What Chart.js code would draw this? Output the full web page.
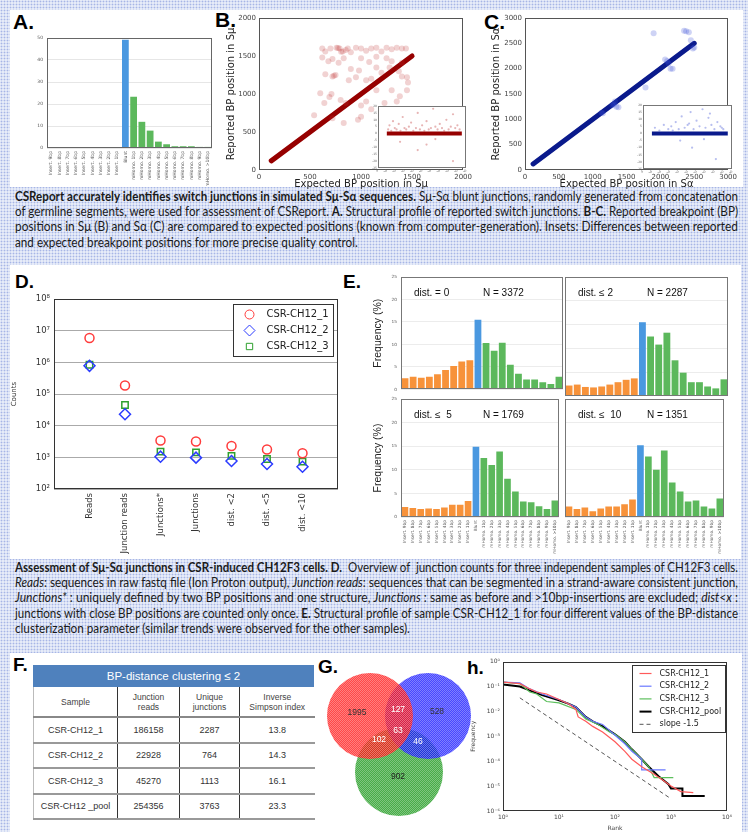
<!DOCTYPE html>
<html>
<head>
<meta charset="utf-8">
<script src="https://cdn.jsdelivr.net/npm/chart.js@4.4.1/dist/chart.umd.min.js"></script>
<style>
body { margin: 0; width: 748px; height: 832px; position: relative; overflow: hidden;
  background: #e6ebf8 radial-gradient(circle, #a7b5e6 0.8px, transparent 1.1px) 0 0 / 3px 3px;
  font-family: "DejaVu Sans", sans-serif; }
.white { position: absolute; background: #fff; }
.box { position: absolute; }
.letter { position: absolute; font: bold 21px/22px "Liberation Sans", Arial, sans-serif; color: #000; }
.letter.small { font-size: 19px; }
.cap { position: absolute; left: 15px; width: 723px; font: 12.5px Lato, "Open Sans", sans-serif; color: #1a1a1a; }
.cap div { height: 15.2px; line-height: 15.2px; white-space: nowrap; }
.cap span.line { display: inline-block; transform-origin: 0 50%; }
#tableF { position: absolute; left: 33px; top: 665px; width: 281px; font-family: "Liberation Sans", Arial, sans-serif; }
#tableF .band { height: 22px; line-height: 22px; background: #4f81bd; color: #fff; font-size: 11.5px; text-align: center; }
#tableF table { border-collapse: collapse; table-layout: fixed; width: 281px; border-left: 1px solid #bbb; }
#tableF th { height: 27px; padding: 1px; font-size: 8.5px; font-weight: normal; color: #444; border-right: 1px solid #333; border-bottom: 2px solid #888; vertical-align: middle; }
#tableF td { height: 21.5px; padding: 1px; font-size: 9px; color: #333; text-align: center; border-right: 1px solid #333; border-bottom: 2px solid #999; }
#tableF th:last-child, #tableF td:last-child { border-right: none; }
</style>
</head>
<body>
<div class="white" style="left:10px;top:10px;width:733px;height:177px"></div>
<div class="white" style="left:10px;top:265px;width:731px;height:294px"></div>
<div class="white" style="left:10px;top:653px;width:732px;height:179px"></div>

<div class="letter" style="left:13px;top:11px">A.</div>
<div class="letter" style="left:215px;top:9px">B.</div>
<div class="letter" style="left:484px;top:11px">C.</div>
<div class="letter small" style="left:15px;top:271px">D.</div>
<div class="letter small" style="left:343px;top:271px">E.</div>
<div class="letter small" style="left:13px;top:654px">F.</div>
<div class="letter small" style="left:318px;top:656px">G.</div>
<div class="letter small" style="left:467px;top:657px">h.</div>

<div class="cap" style="top:189px">
  <div><span class="line"><b>CSReport accurately identifies switch junctions in simulated Sμ-Sα sequences.</b> Sμ-Sα blunt junctions, randomly generated from concatenation</span></div>
  <div><span class="line">of germline segments, were used for assessment of CSReport. <b>A.</b> Structural profile of reported switch junctions. <b>B-C.</b> Reported breakpoint (BP)</span></div>
  <div><span class="line">positions in Sμ (B) and Sα (C) are compared to expected positions (known from computer-generation). Insets: Differences between reported</span></div>
  <div class="last"><span class="line">and expected breakpoint positions for more precise quality control.</span></div>
</div>

<div class="cap" style="top:560px">
  <div><span class="line"><b>Assessment of Sμ-Sα junctions in CSR-induced CH12F3 cells. D.</b>&nbsp; Overview of&nbsp; junction counts for three independent samples of CH12F3 cells.</span></div>
  <div><span class="line"><i>Reads</i>: sequences in raw fastq file (Ion Proton output), <i>Junction reads</i>: sequences that can be segmented in a strand-aware consistent junction,</span></div>
  <div><span class="line"><i>Junctions*</i> : uniquely defined by two BP positions and one structure, <i>Junctions</i> : same as before and &gt;10bp-insertions are excluded; <i>dist&lt;x</i> :</span></div>
  <div><span class="line">junctions with close BP positions are counted only once. <b>E.</b> Structural profile of sample CSR-CH12_1 for four different values of the BP-distance</span></div>
  <div class="last"><span class="line">clusterization parameter (similar trends were observed for the other samples).</span></div>
</div>

<div id="tableF"></div>

<script>
// ---- data ----
const profileLabels = ['Insert. 9bp', 'Insert. 8bp', 'Insert. 7bp', 'Insert. 6bp', 'Insert. 5bp', 'Insert. 4bp', 'Insert. 3bp', 'Insert. 2bp', 'Insert. 1bp',
  'Blunt', 'mHomo. 1bp', 'mHomo. 2bp', 'mHomo. 3bp', 'mHomo. 4bp', 'mHomo. 5bp', 'mHomo. 6bp', 'mHomo. 7bp', 'mHomo. 8bp', 'mHomo. 9bp', 'mHomo. >10bp'];
const simProfile = [0, 0, 0, 0, 0, 0, 0, 0, 0, 49.2, 23.3, 11.9, 7.9, 2.9, 1.7, 0.8, 0.8, 0.8, 0.5, 0.5];

// B: expected vs reported in S-mu
const muDiag = [120, 1500];
const muOutX = [620, 650, 700, 760, 775, 790, 805, 820, 850, 870, 900, 950, 1000, 1050, 1100, 1150, 1200, 1250, 1300, 1350, 1400, 1440,
  620, 680, 720, 780, 830, 900, 980, 1000, 1080, 1150, 1250, 1300, 1400,
  720, 735, 750, 650, 880, 950, 1050, 1100, 1200, 1280, 1400, 1450, 1150, 1370,
  600, 690, 710, 800, 640, 850, 1000, 1050, 1150, 1300, 1380, 1450, 1230, 1350,
  540, 720, 830, 970, 1000, 1100, 1260, 1460];
const muOutY = [1600, 1560, 1600, 1610, 1605, 1600, 1555, 1560, 1580, 1600, 1550, 1610, 1600, 1570, 1600, 1610, 1560, 1610, 1590, 1610, 1600, 1600,
  1480, 1430, 1460, 1410, 1470, 1330, 1310, 1470, 1420, 1490, 1470, 1430, 1410,
  1230, 1240, 1250, 1260, 1180, 1220, 1180, 1200, 1280, 1350, 1230, 1220, 1350, 1300,
  1010, 960, 1000, 920, 880, 880, 850, 900, 1050, 1050, 970, 1050, 880, 900,
  720, 680, 620, 660, 700, 800, 600, 1150];
const muDiffSpan = [200, 1900];
const muDiffX = [230, 260, 300, 340, 380, 420, 470, 510, 560, 600, 640, 700, 750, 800, 860, 900, 950, 1000, 1050, 1100,
  1150, 1200, 1250, 1300, 1350, 1400, 1450, 1500, 1550, 1600, 1650, 1700, 1750, 1800, 1850, 500, 900, 1300, 1700, 1100];
const muDiffY = [3, 6, 2, 9, 4, 3, 7, 2, 12, 4, 3, 5, 8, 2, 4, 15, 3, 6, 2, 9,
  3, 4, 18, 5, 3, 7, 4, 2, 10, 3, 5, 14, 4, 6, 3, -6, -12, -4, -20, -8];

// C: expected vs reported in S-alpha
const alphaDiag = [120, 2500];
const alphaOutX = [1900, 2350, 2380, 2420, 2450, 2480, 2500, 2070, 2100, 2120, 2150, 2180, 1780, 1290, 1310, 1330, 1350, 1380, 1150, 1130];
const alphaOutY = [2700, 2750, 2740, 2720, 2560, 2400, 2420, 2180, 2150, 2100, 2000, 2000, 1630, 1280, 1300, 1350, 1250, 1240, 1120, 1130];
const alphaDiffSpan = [300, 2850];
const alphaDiffX = [400, 550, 700, 850, 950, 1100, 1200, 1300, 1400, 1500, 1600, 1700, 1800, 1900, 2000, 2100, 2200, 2300, 2400, 2500,
  2600, 2700, 1250, 1650, 2050, 2450, 1000, 1550, 2250, 2650];
const alphaDiffY = [4, 2, 6, 3, 5, 8, 3, 12, 4, 6, 15, 3, 9, 5, 17, 4, 11, 6, 3, 8,
  5, 3, -5, -10, -4, -18, 2, 7, 14, 4];

// D: counts
const countLabels = ['Reads', 'Junction reads', 'Junctions*', 'Junctions', 'dist. <2', 'dist. <5', 'dist. <10'];
const ch1Counts = [5.9e6, 186158, 3390, 3150, 2287, 1769, 1351];
const ch2Counts = [7.8e5, 22928, 1050, 980, 764, 614, 505];
const ch3Counts = [8.4e5, 45270, 1510, 1440, 1113, 885, 730];

// E: frequency profiles (%) for BP-distance clustering
const freqDist0 = [2.5, 2.8, 2.6, 2.8, 3.4, 4.3, 5.2, 6.2, 6.5, 15.5, 10.3, 8.6, 10.4, 5.5, 3.5, 2.2, 2.2, 1.6, 1.2, 2.8];
const freqDist2 = [2.2, 2.4, 1.9, 1.8, 2.0, 2.4, 2.9, 3.4, 3.7, 15.5, 12.5, 10.8, 13.3, 7.5, 4.9, 2.9, 2.9, 2.0, 1.6, 3.5];
const freqDist5 = [2.1, 1.9, 1.7, 1.8, 1.7, 2.0, 2.6, 2.6, 3.4, 14.9, 12.5, 11.0, 13.9, 8.1, 5.4, 3.3, 3.1, 2.3, 1.7, 3.5];
const freqDist10 = [2.2, 1.7, 2.0, 1.2, 1.8, 2.2, 2.2, 2.7, 3.7, 15.2, 12.8, 10.0, 14.1, 7.3, 5.4, 3.3, 3.5, 2.2, 1.8, 3.9];
const distLabels = ['dist. = 0', 'dist. \u2264 2', 'dist. \u2264  5', 'dist. \u2264  10'];
const distN = [3372, 2287, 1769, 1351];

// F: table
const sampleNames = ['CSR-CH12_1', 'CSR-CH12_2', 'CSR-CH12_3', 'CSR-CH12 _pool'];
const junctionReads = [186158, 22928, 45270, 254356];
const uniqueJunctions = [2287, 764, 1113, 3763];
const simpsonIndex = ['13.8', '14.3', '16.1', '23.3'];

// G: venn
const vennX = [50, 108, 79];
const vennY = [116, 116, 60];
const vennR = [43, 43, 44];
const vennText = ['1995', '127', '528', '63', '102', '46', '902'];
const vennTextX = [37, 78, 117, 78, 59, 98, 78];
const vennTextY = [119, 122, 120, 101, 92, 90, 55];

// H: rank-frequency
const rank1 = [1, 2, 3, 4, 6, 10, 15, 20, 22, 30, 40, 60, 100, 150, 200, 300, 500, 700, 1000, 1500, 2500];
const freq1 = [0.15, 0.13, 0.08, 0.06, 0.05, 0.03, 0.02, 0.012, 0.006, 0.004, 0.0025, 0.0015, 0.0006, 0.00025, 0.00012, 6e-5, 3e-5, 1.8e-5, 1e-5, 6e-6, 5.5e-6];
const rank2 = [1, 2, 3, 5, 10, 20, 30, 40, 60, 100, 150, 200, 300, 300, 800];
const freq2 = [0.15, 0.14, 0.08, 0.05, 0.03, 0.015, 0.006, 0.004, 0.003, 0.0011, 0.0005, 0.00025, 0.00012, 4.5e-5, 4.5e-5];
const rank3 = [1, 2, 3, 4, 6, 10, 20, 30, 50, 80, 100, 150, 200, 300, 400, 500, 1100];
const freq3 = [0.15, 0.13, 0.06, 0.05, 0.025, 0.022, 0.012, 0.005, 0.003, 0.0015, 0.0012, 0.0006, 0.0003, 0.00012, 6e-5, 2.2e-5, 2.2e-5];
const rankPool = [1, 2, 3, 5, 10, 15, 20, 25, 30, 40, 60, 100, 150, 200, 300, 400, 600, 900, 1000, 1600, 1600, 4000];
const freqPool = [0.12, 0.1, 0.07, 0.045, 0.028, 0.02, 0.015, 0.009, 0.006, 0.004, 0.0025, 0.0012, 0.0006, 0.0003, 0.00012, 6e-5, 2.5e-5, 1.2e-5, 8e-6, 8e-6, 4e-6, 4e-6];
const slopeRank = [2, 1000];
const slopeFreq = [0.035, 3.1e-6];

// ---- helpers ----
const ORANGE = '#f7923a', BLUE = '#4a98e0', GREEN = '#5cb85c';
const profileColors = profileLabels.map(l => l.startsWith('Insert') ? ORANGE : (l === 'Blunt' ? BLUE : GREEN));
const SUP = { '-': '\u207b', '0': '\u2070', '1': '\u00b9', '2': '\u00b2', '3': '\u00b3', '4': '\u2074', '5': '\u2075', '6': '\u2076', '7': '\u2077', '8': '\u2078', '9': '\u2079' };
const pow10 = v => '10' + String(Math.round(Math.log10(v))).split('').map(ch => SUP[ch]).join('');
const powTicks = (a, b) => scale => { const t = []; for (let e = a; e <= b; e++) t.push({ value: Math.pow(10, e) }); scale.ticks = t; };
const pts = (xs, ys) => xs.map((x, i) => ({ x: x, y: ys[i] }));
const plain = v => String(v);

Chart.defaults.animation = false;
Chart.defaults.font.family = '"DejaVu Sans", sans-serif';
Chart.defaults.color = '#444';
Chart.defaults.plugins.legend.display = false;
Chart.defaults.plugins.tooltip.enabled = false;

// frame round the plot area + optional fill behind it
Chart.register({
  id: 'frame',
  beforeDraw(chart, args, o) {
    if (!o.fill) return;
    const a = chart.chartArea;
    chart.ctx.save(); chart.ctx.fillStyle = o.fill;
    chart.ctx.fillRect(a.left, a.top, a.right - a.left, a.bottom - a.top);
    chart.ctx.restore();
  },
  afterDatasetsDraw(chart, args, o) {
    if (!o.color) return;
    const a = chart.chartArea, c = chart.ctx;
    c.save(); c.strokeStyle = o.color; c.lineWidth = 1;
    c.strokeRect(Math.round(a.left) + 0.5, Math.round(a.top) + 0.5, Math.round(a.right - a.left) - 1, Math.round(a.bottom - a.top) - 1);
    c.restore();
  }
});

// boxed legend inside the plot area
Chart.register({
  id: 'boxLegend',
  afterDraw(chart, args, o) {
    if (!o.width) return;
    const a = chart.chartArea, c = chart.ctx;
    const x0 = Math.round(a.right - o.right - o.width) + 0.5, y0 = Math.round(a.top + o.top) + 0.5;
    c.save();
    c.fillStyle = '#fff'; c.fillRect(x0, y0, o.width, o.height);
    c.strokeStyle = '#333'; c.lineWidth = 1; c.strokeRect(x0, y0, o.width, o.height);
    c.font = o.font; c.textBaseline = 'middle'; c.textAlign = 'left';
    let row = 0;
    chart.data.datasets.forEach(ds => {
      if (!ds.label) return;
      const y = y0 + o.first + row * o.step;
      c.strokeStyle = ds.borderColor; c.fillStyle = '#fff';
      if (o.kind === 'marker') {
        Chart.helpers.drawPoint(c, { pointStyle: ds.pointStyle, radius: ds.pointRadius, borderWidth: ds.borderWidth, rotation: 0 }, x0 + o.mark, y);
      } else {
        c.lineWidth = ds.borderWidth; c.setLineDash(ds.borderDash || []);
        c.beginPath(); c.moveTo(x0 + o.mark - 6, y); c.lineTo(x0 + o.mark + 6, y); c.stroke();
        c.setLineDash([]);
      }
      c.fillStyle = '#222'; c.fillText(ds.label, x0 + o.text, y);
      row++;
    });
    c.restore();
  }
});

// free text inside the plot area (E panels)
Chart.register({
  id: 'panelText',
  afterDraw(chart, args, o) {
    if (!o.label) return;
    const a = chart.chartArea, c = chart.ctx;
    c.save(); c.font = '10px "Liberation Sans", Arial, sans-serif'; c.fillStyle = '#111'; c.textBaseline = 'middle';
    c.fillText(o.label, a.left + 13, a.top + 16);
    const end = a.left + 13 + c.measureText(o.label).width;
    c.fillText(o.n, Math.max(a.left + 82, end + 7), a.top + 16);
    c.restore();
  }
});

function makeCanvas(box) {
  const w = box[2] - box[0], h = box[3] - box[1];
  const d = document.createElement('div');
  d.className = 'box';
  d.style.cssText = `left:${box[0]}px;top:${box[1]}px;width:${w}px;height:${h}px`;
  const c = document.createElement('canvas');
  c.width = w; c.height = h; c.style.width = w + 'px'; c.style.height = h + 'px';
  d.appendChild(c); document.body.appendChild(d);
  return c;
}

// box / plot = [left, top, right, bottom] in page pixels; the plot area is pinned onto plot
function placed(box, plot, cfg) {
  const L = { yW: plot[0] - box[0], xH: box[3] - plot[3] };
  const pad = { top: plot[1] - box[1], right: box[2] - plot[2], left: 0, bottom: 0 };
  const sx = cfg.options.scales.x, sy = cfg.options.scales.y;
  const xHidden = sx.display === false;
  if (xHidden) pad.bottom = L.xH; else sx.afterFit = s => { s.height = L.xH; };
  sy.afterFit = s => { s.width = L.yW; };
  cfg.options.layout = { padding: Object.assign({}, pad), autoPadding: false };
  cfg.options.responsive = false;
  const chart = new Chart(makeCanvas(box), cfg);
  for (let k = 0; k < 3; k++) {
    const a = chart.chartArea;
    const dl = a.left - (plot[0] - box[0]), dt = a.top - (plot[1] - box[1]);
    const dr = a.right - (plot[2] - box[0]), db = a.bottom - (plot[3] - box[1]);
    if (Math.abs(dl) + Math.abs(dt) + Math.abs(dr) + Math.abs(db) < 0.5) break;
    L.yW -= dl; pad.top -= dt; pad.right += dr;
    if (xHidden) pad.bottom += db; else L.xH += db;
    chart.options.layout.padding = Object.assign({}, pad);
    chart.update();
  }
  return chart;
}

// ---- A: simulated structural profile ----
placed([20, 30, 220, 186], [47, 38, 212, 148], {
  type: 'bar',
  data: { labels: profileLabels, datasets: [{ data: simProfile, backgroundColor: profileColors, barPercentage: 0.82, categoryPercentage: 1 }] },
  options: {
    plugins: { frame: { color: '#666' } },
    scales: {
      x: { grid: { display: false, drawTicks: false }, border: { display: false },
        ticks: { font: { size: 4.5 }, color: '#555', minRotation: 90, maxRotation: 90, autoSkip: false, padding: 3 } },
      y: { min: 0, max: 50, border: { display: false },
        grid: { color: '#e6e6e6', drawTicks: false }, ticks: { stepSize: 10, font: { size: 4.5 }, color: '#555', padding: 4 } }
    }
  }
});

// ---- B / C: expected vs reported breakpoints ----
function bpScatter(box, plot, diag, outX, outY, max, lineColor, dotColor, axisName) {
  placed(box, plot, {
    type: 'scatter',
    data: { datasets: [
      { data: pts(outX, outY), backgroundColor: dotColor, borderWidth: 0, pointRadius: 3 },
      { data: pts(diag, diag), showLine: true, borderColor: lineColor, borderWidth: 5, pointRadius: 0, borderCapStyle: 'round' }
    ] },
    options: {
      plugins: { frame: { color: '#555' } },
      scales: {
        x: { min: 0, max: max, grid: { display: false, drawTicks: false }, border: { display: false },
          ticks: { stepSize: 500, font: { size: 7 }, color: '#444', padding: 3, callback: plain },
          title: { display: true, text: 'Expected BP position in ' + axisName, font: { size: 10 }, color: '#222', padding: 0 } },
        y: { min: 0, max: max, grid: { display: false, drawTicks: false }, border: { display: false },
          ticks: { stepSize: 500, font: { size: 7 }, color: '#444', padding: 3, callback: plain },
          title: { display: true, text: 'Reported BP position in ' + axisName, font: { size: 10 }, color: '#222', padding: 0 } }
      }
    }
  });
}
function diffInset(box, plot, span, dX, dY, xmax, lineColor, dotColor) {
  placed(box, plot, {
    type: 'scatter',
    data: { datasets: [
      { data: pts(dX, dY), backgroundColor: dotColor, borderWidth: 0, pointRadius: 1.1 },
      { data: [{ x: span[0], y: 0 }, { x: span[1], y: 0 }], showLine: true, borderColor: lineColor, borderWidth: 4, pointRadius: 0 }
    ] },
    options: {
      plugins: { frame: { color: '#777', fill: '#fff' } },
      scales: {
        x: { min: 0, max: xmax, grid: { display: false, drawTicks: false }, border: { display: false },
          ticks: { stepSize: xmax / 10, font: { size: 3 }, color: '#666', padding: 1, callback: plain } },
        y: { min: -25, max: 20, grid: { display: false, drawTicks: false }, border: { display: false },
          ticks: { stepSize: 5, font: { size: 3 }, color: '#666', padding: 1 } }
      }
    }
  });
}
bpScatter([225, 5, 475, 190], [259, 18, 472, 170], muDiag, muOutX, muOutY, 2000, '#960000', 'rgba(190,50,50,0.22)', 'S\u03bc');
diffInset([364, 102, 470, 172], [378, 106, 468, 168], muDiffSpan, muDiffX, muDiffY, 2000, '#960000', 'rgba(185,40,40,0.35)');
bpScatter([490, 5, 740, 190], [525, 18, 737, 170], alphaDiag, alphaOutX, alphaOutY, 3000, '#0a1a8c', 'rgba(60,80,215,0.25)', 'S\u03b1');
diffInset([629, 101, 736, 173], [643, 105, 734, 169], alphaDiffSpan, alphaDiffX, alphaDiffY, 3000, '#0a1a8c', 'rgba(50,70,210,0.35)');

// ---- D: junction counts ----
const countIdx = countLabels.map((_, i) => i);
placed([10, 290, 345, 556], [54, 299, 338, 489], {
  type: 'scatter',
  data: { datasets: [
    { label: 'CSR-CH12_1', data: pts(countIdx, ch1Counts), pointStyle: 'circle', pointRadius: 4.5, borderColor: '#ff3b3b', borderWidth: 1.5, backgroundColor: 'rgba(0,0,0,0)' },
    { label: 'CSR-CH12_2', data: pts(countIdx, ch2Counts), pointStyle: 'rectRot', pointRadius: 5.5, borderColor: '#2b3bff', borderWidth: 1.5, backgroundColor: 'rgba(0,0,0,0)' },
    { label: 'CSR-CH12_3', data: pts(countIdx, ch3Counts), pointStyle: 'rect', pointRadius: 4.5, borderColor: '#2ea02e', borderWidth: 1.5, backgroundColor: 'rgba(0,0,0,0)' }
  ] },
  options: {
    plugins: {
      frame: { color: '#333' },
      boxLegend: { kind: 'marker', right: 5, top: 5, width: 100, height: 52, first: 10, step: 16, mark: 16, text: 33, font: '10px "DejaVu Sans", sans-serif' }
    },
    scales: {
      x: { type: 'linear', min: -1, max: 7, afterBuildTicks: s => { s.ticks = countIdx.map(v => ({ value: v })); },
        grid: { display: false, drawTicks: false }, border: { display: false },
        ticks: { callback: v => countLabels[v], font: { size: 8.5 }, color: '#333', minRotation: 90, maxRotation: 90, autoSkip: false, padding: 4 } },
      y: { type: 'logarithmic', min: 1e2, max: 1e8, afterBuildTicks: powTicks(2, 8),
        border: { display: false }, grid: { color: '#aaa', borderDash: [1, 2], drawTicks: false },
        ticks: { callback: v => pow10(v), font: { size: 8.5 }, color: '#333', padding: 4 },
        title: { display: true, text: 'Counts', font: { size: 7 }, color: '#333', padding: 0 } }
    }
  }
});

// ---- E: structural profile for four BP-distance values ----
function freqPanel(box, plot, values, label, n, showY, showX) {
  placed(box, plot, {
    type: 'bar',
    data: { labels: profileLabels, datasets: [{ data: values, backgroundColor: profileColors, barPercentage: 0.84, categoryPercentage: 1 }] },
    options: {
      plugins: { frame: { color: '#777' }, panelText: { label: label, n: 'N = ' + n } },
      scales: {
        x: { display: showX, grid: { display: false, drawTicks: false }, border: { display: false },
          ticks: { font: { size: 4.3 }, color: '#555', minRotation: 90, maxRotation: 90, autoSkip: false, padding: 3 } },
        y: { min: 0, max: 25, border: { display: false },
          grid: { color: '#ececec', drawTicks: false },
          ticks: { display: showY, stepSize: 5, font: { size: 4.3 }, color: '#555', padding: 4 },
          title: { display: showY, text: 'Frequency (%)', font: { size: 10.5, family: '"Liberation Sans", Arial, sans-serif' }, color: '#222', padding: 0 } }
      }
    }
  });
}
freqPanel([372, 270, 563, 396], [401, 277, 563, 396], freqDist0, distLabels[0], distN[0], true, false);
freqPanel([565, 270, 728, 396], [565, 277, 728, 396], freqDist2, distLabels[1], distN[1], false, false);
freqPanel([372, 389, 563, 556], [401, 399, 563, 517], freqDist5, distLabels[2], distN[2], true, true);
freqPanel([565, 389, 728, 556], [565, 399, 728, 517], freqDist10, distLabels[3], distN[3], false, true);

// ---- F: table ----
(function () {
  let html = '<div class="band">BP-distance clustering \u2264 2</div><table>' +
    '<colgroup><col style="width:84px"><col style="width:62px"><col style="width:60px"><col style="width:75px"></colgroup>' +
    '<tr><th>Sample</th><th>Junction<br>reads</th><th>Unique<br>junctions</th><th>Inverse<br>Simpson index</th></tr>';
  sampleNames.forEach((s, i) => {
    html += `<tr><td>${s}</td><td>${junctionReads[i]}</td><td>${uniqueJunctions[i]}</td><td>${simpsonIndex[i]}</td></tr>`;
  });
  document.getElementById('tableF').innerHTML = html + '</table>';
})();

// ---- G: venn diagram of unique junctions ----
(function () {
  const box = [320, 660, 472, 832];
  const canvas = makeCanvas(box);
  const ctx = canvas.getContext('2d');
  function texture(rgb) {
    const p = document.createElement('canvas'); p.width = 2; p.height = 2;
    const g = p.getContext('2d');
    g.fillStyle = `rgba(${rgb},0.78)`; g.fillRect(0, 0, 2, 2);
    g.fillStyle = 'rgba(255,255,255,0.3)'; g.fillRect(0, 0, 1, 1); g.fillRect(1, 1, 1, 1);
    return ctx.createPattern(p, 'repeat');
  }
  const fills = [texture('255,20,20'), texture('20,20,255'), texture('20,150,20')];
  const textColors = ['#333', '#fff', '#333', '#fff', '#fff', '#fff', '#222'];
  new Chart(canvas, {
    type: 'bubble',
    data: { datasets: vennX.map((x, i) => ({ data: [{ x: x, y: vennY[i], r: vennR[i] }], backgroundColor: fills[i], borderWidth: 0, clip: false })) },
    options: {
      responsive: false, layout: { padding: 0, autoPadding: false },
      scales: { x: { display: false, min: 0, max: box[2] - box[0] }, y: { display: false, min: 0, max: box[3] - box[1] } }
    },
    plugins: [{
      id: 'vennText',
      afterDraw(chart) {
        const c = chart.ctx, sx = chart.scales.x, sy = chart.scales.y;
        c.save(); c.font = '8.5px "Liberation Sans", Arial, sans-serif'; c.textAlign = 'center'; c.textBaseline = 'middle';
        vennText.forEach((t, i) => {
          c.fillStyle = textColors[i];
          c.fillText(t, sx.getPixelForValue(vennTextX[i]), sy.getPixelForValue(vennTextY[i]));
        });
        c.restore();
      }
    }]
  });
})();

// ---- h: rank-frequency ----
const hLine = (label, xs, ys, color, w, dash) => ({ label: label, data: pts(xs, ys), borderColor: color, borderWidth: w, borderDash: dash, pointRadius: 0, fill: false });
placed([470, 655, 740, 832], [503, 660, 727, 811], {
  type: 'line',
  data: { datasets: [
    hLine('CSR-CH12_1', rank1, freq1, '#ff5a5a', 1.2, []),
    hLine('CSR-CH12_2', rank2, freq2, '#6a78ff', 1.2, []),
    hLine('CSR-CH12_3', rank3, freq3, '#5cbf5c', 1.2, []),
    hLine('CSR-CH12_pool', rankPool, freqPool, '#000', 2, []),
    hLine('slope -1.5', slopeRank, slopeFreq, '#555', 1, [4, 3])
  ] },
  options: {
    plugins: {
      frame: { color: '#333' },
      boxLegend: { kind: 'line', right: 2, top: 3, width: 93, height: 67, first: 8, step: 12.7, mark: 13, text: 27, font: '8px "DejaVu Sans", sans-serif' }
    },
    scales: {
      x: { type: 'logarithmic', min: 1, max: 1e4, afterBuildTicks: powTicks(0, 4),
        grid: { display: false, drawTicks: false }, border: { display: false },
        ticks: { callback: v => pow10(v), font: { size: 6 }, color: '#444', padding: 3, maxRotation: 0 },
        title: { display: true, text: 'Rank', font: { size: 6 }, color: '#444', padding: 0 } },
      y: { type: 'logarithmic', min: 1e-6, max: 1, afterBuildTicks: powTicks(-6, 0),
        grid: { display: false, drawTicks: false }, border: { display: false },
        ticks: { callback: v => pow10(v), font: { size: 6 }, color: '#444', padding: 3 },
        title: { display: true, text: 'Frequency', font: { size: 6 }, color: '#444', padding: 0 } }
    }
  }
});

// ---- captions: squeeze each line to the full justified width ----
document.querySelectorAll('.cap').forEach(cap => {
  const target = cap.clientWidth;
  const rows = [...cap.children];
  const factors = [];
  rows.forEach(r => {
    if (r.classList.contains('last')) return;
    const sp = r.querySelector('.line');
    const f = target / sp.getBoundingClientRect().width;
    factors.push(f);
    sp.style.transform = `scaleX(${f})`;
  });
  const avg = factors.reduce((a, b) => a + b, 0) / factors.length;
  rows.filter(r => r.classList.contains('last')).forEach(r => { r.querySelector('.line').style.transform = `scaleX(${avg})`; });
});
</script>
</body>
</html>
